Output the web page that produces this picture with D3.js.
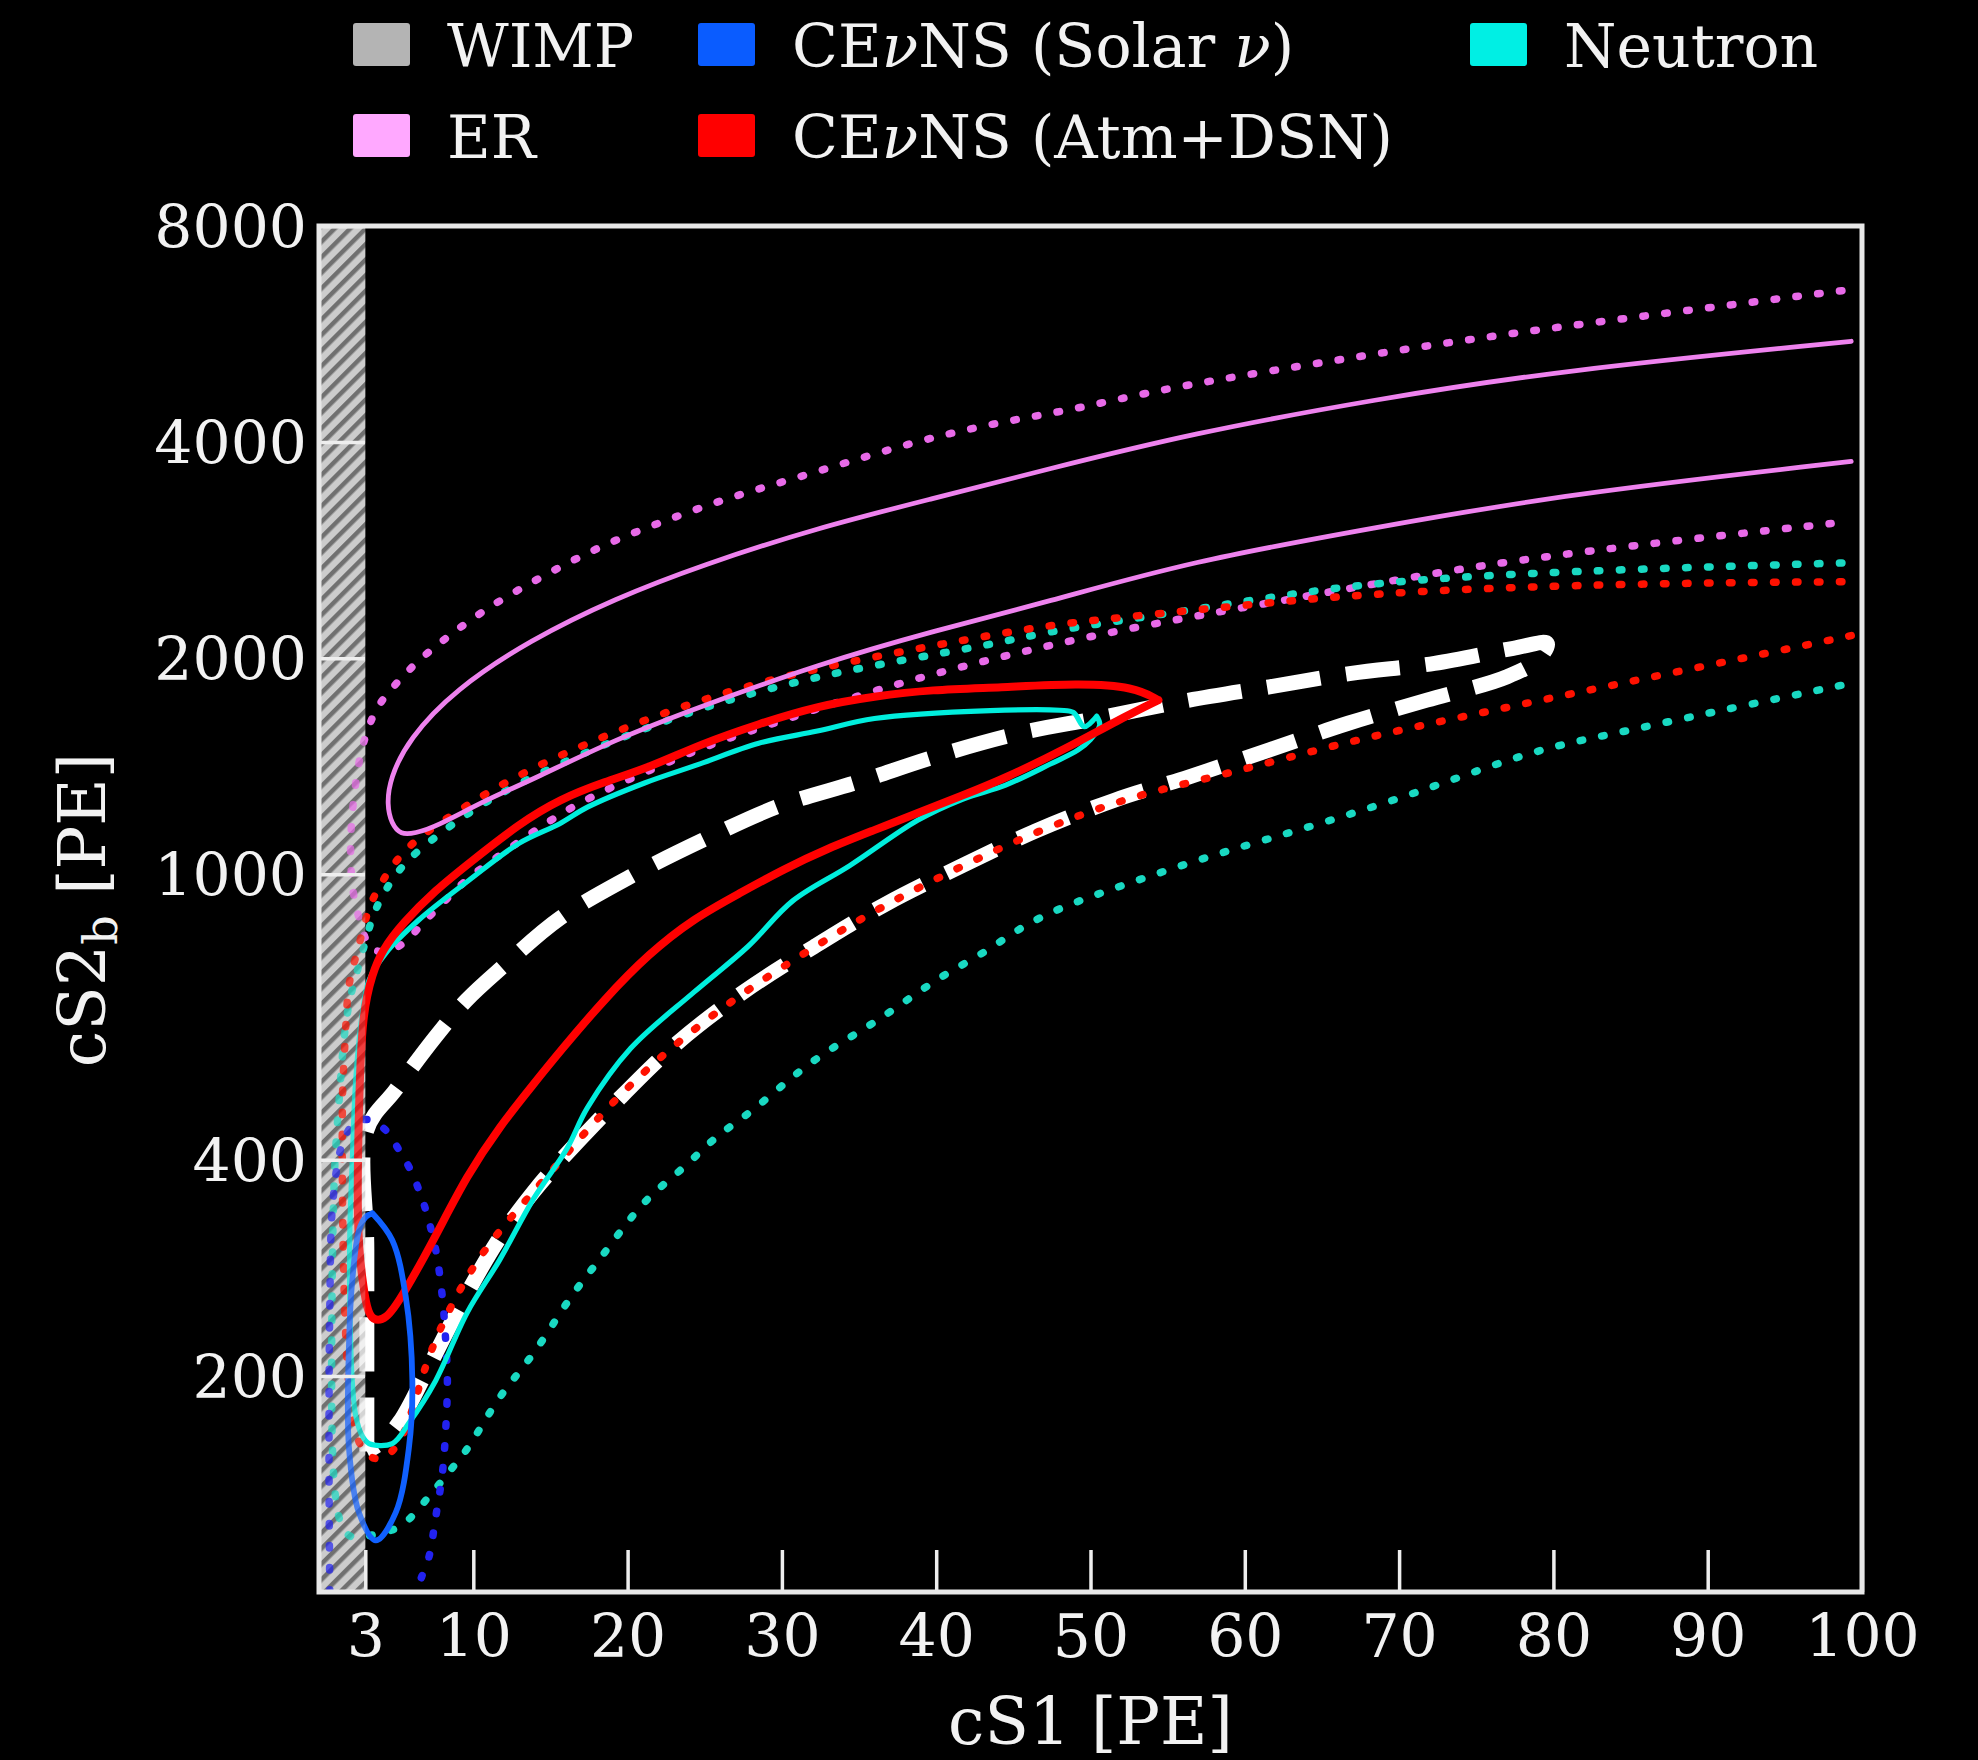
<!DOCTYPE html>
<html>
<head>
<meta charset="utf-8">
<script src="https://cdnjs.cloudflare.com/ajax/libs/d3/7.8.5/d3.min.js"></script>
<style>
  body { margin: 0; background: #000; }
  svg { display: block; font-family: "DejaVu Serif", serif; }
</style>
</head>
<body>
<svg id="svg_main" width="1978" height="1760"></svg>
<script>
// ticks
var x_ticks = [3, 10, 20, 30, 40, 50, 60, 70, 80, 90, 100];
var y_ticks = [200, 400, 1000, 2000, 4000, 8000];
var wimp_cut = 3;

// legend
var legend_names = ["WIMP", "CEνNS (Solar ν)", "Neutron", "ER", "CEνNS (Atm+DSN)"];
var legend_colors = ["#b4b4b4", "#0a5cff", "#00efe4", "#ffa8ff", "#ff0000"];

// contours, [cS1, cS2b]
var er_solid = [[99.3,5527],[80.5,5036],[68.4,4587],[56.5,4110],[47.1,3661],[39.7,3334],[32.3,3038],[24.8,2696],[19.2,2423],[13.7,2122],[8.8,1808],[5.8,1542],[4.6,1360],[4.4,1250],[4.7,1175],[5.3,1135],[6.2,1140],[7.6,1165],[10.8,1269],[13.7,1350],[19.2,1542],[24.8,1715],[32.3,1959],[39.7,2179],[47.1,2391],[56.5,2730],[68.4,3038],[80.5,3380],[99.3,3759]];

var er_dotted = [[98.7,6500],[84.6,5947],[74.5,5566],[64.4,5140],[54.6,4745],[49.0,4440],[43.4,4240],[37.8,3963],[32.3,3636],[26.7,3357],[22.6,3120],[18.5,2884],[14.8,2625],[11.0,2360],[8.6,2164],[6.4,1988],[4.4,1786],[3.6,1688],[3.1,1578],[2.66,1472],[2.22,1277],[2.0,1105],[2.1,972],[2.38,901],[2.81,836],[3.24,784],[4.32,776],[5.62,801],[6.48,845],[7.56,891],[8.64,940],[9.72,992],[11.9,1069],[16.25,1246],[21.1,1386],[25.5,1523],[29.65,1626],[36.0,1808],[44.1,2010],[51.8,2189],[60.8,2371],[68,2529],[75,2690],[85,2870],[98,3080]];

var neutron_solid = [[50.4,1660],[49.6,1605],[48.9,1680],[48.0,1692],[43.5,1690],[36.0,1648],[32.3,1583],[28.5,1522],[24.5,1420],[21.1,1340],[17.4,1240],[15.6,1176],[12.96,1104],[9.72,981],[6.48,864],[4.32,776],[3.24,712],[2.81,640],[2.38,517],[2.16,400],[2.0,320],[2.0,250],[2.16,196],[2.38,176],[2.8,165],[3.24,161],[4.75,161],[5.83,172],[7.56,197],[9.6,245],[11.7,290],[13.9,353],[16.05,414],[17.4,473],[20.2,572],[24.3,685],[27.8,793],[30.7,918],[34.4,1028],[38.8,1189],[41.7,1272],[44.5,1331],[47.4,1424],[49.2,1490],[50.0,1540],[50.6,1615],[50.4,1660]];

var neutron_dotted = [[98.7,2714],[84.6,2660],[72.4,2591],[64.4,2489],[56.3,2328],[47.1,2179],[44.1,2097],[36.0,1959],[28.5,1808],[21.1,1604],[13.65,1368],[9.93,1230],[7.13,1110],[5.8,1050],[4.9,995],[4.1,935],[3.4,870],[2.7,760],[2.2,700],[1.8,640],[1.5,560],[1.3,480],[1.0,400],[0.86,300],[0.8,200],[0.85,150],[1.2,125],[2.0,118],[3.3,120],[5.18,122],[6.27,129],[7.13,136],[7.99,143],[8.86,151],[9.83,160],[11.73,189],[13.9,213],[16.2,257],[17.9,285],[19.7,322],[21.4,357],[23.7,390],[25.7,432],[28.1,467],[31.2,535],[33.6,579],[35.9,619],[38.2,670],[40.5,725],[43.1,776],[45.4,842],[48.0,898],[51.8,961],[58.2,1069],[65.1,1178],[72.3,1324],[78.7,1490],[84.1,1572],[90,1677],[99.3,1845]];

var atm_solid = [[54.4,1748],[52.85,1824],[49.3,1845],[44.1,1820],[39.7,1808],[36,1770],[32.3,1715],[28.5,1620],[24.8,1520],[21.4,1408],[18.5,1345],[15.6,1272],[13.0,1177],[9.72,1036],[7.56,951],[5.4,854],[4.1,784],[3.46,728],[2.81,640],[2.59,490],[2.44,320],[2.81,272],[3.1,248],[3.46,239],[4.32,239],[5.4,258],[7.56,313],[9.57,380],[11.73,446],[13.9,510],[15.6,566],[18.5,670],[21.4,776],[24.3,868],[27.2,939],[30.1,1016],[33.0,1087],[35.9,1150],[38.8,1217],[41.7,1287],[44.5,1361],[48.5,1500],[51.8,1640],[54.4,1748]];

var atm_dotted = [[98.7,2556],[84.6,2540],[72.4,2489],[64.4,2423],[56.3,2328],[48.2,2238],[44.1,2164],[36.0,2012],[28.5,1857],[21.1,1648],[13.65,1405],[9.93,1263],[6.48,1128],[5.4,1069],[4.54,1014],[3.78,951],[3.13,891],[2.48,776],[2.05,728],[1.84,675],[1.75,626],[1.62,545],[1.51,506],[1.5,400],[1.55,300],[1.7,230],[1.94,187],[2.38,163],[3.24,153],[4.32,153],[5.18,161],[5.83,172],[6.98,211],[8.49,250],[10.65,301],[13.9,361],[15.6,398],[19.1,485],[23.1,582],[27.5,685],[32.1,793],[36.7,908],[41.7,1028],[46.6,1150],[51.5,1258],[55,1320],[59.8,1397],[65.4,1505],[71.0,1605],[76.7,1702],[82.3,1806],[92.2,1998],[99.3,2150]];

var solar_solid = [[3.46,337],[4.75,309],[5.62,258],[6.05,197],[5.83,159],[4.97,129],[3.68,118],[2.59,129],[1.94,159],[1.94,220],[2.16,272],[2.59,319],[3.03,333],[3.46,337]];

var solar_dotted = [[0.7,100],[0.65,150],[0.7,250],[0.9,350],[1.5,420],[2.3,450],[3.24,455],[4.32,440],[5.18,413],[5.83,391],[6.48,363],[6.91,341],[7.56,300],[7.99,258],[8.21,224],[8.32,197],[8.21,168],[7.99,146],[7.56,127],[7.13,112],[6.59,104],[6.4,100]];

var wimp_dashed = [[3.1,157],[3.1,300],[3.1,440],[4.97,501],[7.56,594],[9.57,668],[11.9,743],[15.6,868],[20.2,993],[25.2,1124],[29.8,1244],[35.0,1346],[40.0,1460],[45.3,1570],[50.5,1650],[56.2,1745],[61.6,1824],[66.9,1905],[72.3,1967],[77.4,2064],[79.6,2097],[79.0,1990],[77.0,1884],[71.8,1748],[66.7,1623],[61.6,1490],[56.4,1367],[51.6,1269],[46.5,1150],[41.7,1028],[36.7,908],[32.1,793],[27.5,685],[23.1,579],[19.1,478],[15.6,398],[13.9,361],[11.73,312],[9.14,250],[6.98,203],[5.25,173],[3.95,161],[3.1,157]];

var x, y;

function chart(){
  var svg = d3.select("svg#svg_main");
  svg.append("rect").attr("width", 1978).attr("height", 1760).attr("fill", "#000");

  x = d3.scaleLinear().domain([0, 100]).range([319, 1862]);
  y = d3.scaleLog().domain([100, 8000]).range([1592, 226]);

  var defs = svg.append("defs");
  var pat = defs.append("pattern").attr("id", "hatch")
    .attr("patternUnits", "userSpaceOnUse")
    .attr("width", 11).attr("height", 11)
    .attr("patternTransform", "rotate(45)");
  pat.append("rect").attr("width", 11).attr("height", 11).attr("fill", "#cccccc");
  pat.append("rect").attr("width", 4.5).attr("height", 11).attr("fill", "#707070");

  defs.append("clipPath").attr("id", "plot_clip").append("rect")
    .attr("x", x(0)).attr("y", y(8000))
    .attr("width", x(100) - x(0)).attr("height", y(100) - y(8000));

  // WIMP excluded band (below threshold)
  function hatch_rect(g){
    return g.append("rect")
      .attr("x", x(0)).attr("y", y(8000))
      .attr("width", x(wimp_cut) - x(0)).attr("height", y(100) - y(8000))
      .attr("fill", "url(#hatch)");
  }
  hatch_rect(svg);

  var smooth = d3.line()
    .x(function(d){ return x(d[0]); })
    .y(function(d){ return y(d[1]); })
    .curve(d3.curveBasis);
  var sharp = d3.line()
    .x(function(d){ return x(d[0]); })
    .y(function(d){ return y(d[1]); })
    .curve(d3.curveCatmullRom.alpha(0.5));

  var curves = svg.append("g").attr("clip-path", "url(#plot_clip)");

  function draw(line, data, color, width, dash, cap){
    curves.append("path")
      .attr("d", line(data))
      .attr("fill", "none")
      .attr("stroke", color)
      .attr("stroke-width", width)
      .attr("stroke-dasharray", dash)
      .attr("stroke-linecap", cap)
      .attr("stroke-linejoin", "round");
  }

  var dots = "2.5 19.5";
  draw(sharp, wimp_dashed, "#ffffff", 15, "54 26", "butt");
  draw(smooth, er_dotted, "#e86ae8", 7.5, dots, "round");
  draw(smooth, neutron_dotted, "#19d9c2", 7.5, dots, "round");
  draw(smooth, atm_dotted, "#ff1100", 7.5, dots, "round");
  draw(sharp, solar_dotted, "#2222f0", 7.5, dots, "round");
  draw(smooth, er_solid, "#ee82ee", 4.8, null, "round");
  draw(sharp, neutron_solid, "#00eedd", 5.2, null, "round");
  draw(smooth, atm_solid, "#ff0000", 8, null, "round");
  draw(sharp, solar_solid, "#1060ff", 5.8, null, "round");

  hatch_rect(svg).attr("opacity", 0.3);

  // AXES
  var xAxis = d3.axisBottom(x).tickValues(x_ticks).tickSize(-42).tickPadding(22);
  var yAxis = d3.axisLeft(y).tickValues(y_ticks).tickSize(-46).tickPadding(12)
    .tickFormat(d3.format("d"));

  var gx = svg.append("g").attr("transform", "translate(0," + y(100) + ")").call(xAxis);
  var gy = svg.append("g").attr("transform", "translate(" + x(0) + ",0)").call(yAxis);
  [gx, gy].forEach(function(g){
    g.select(".domain").remove();
    g.selectAll(".tick line").attr("stroke", "#eeeeee").attr("stroke-width", 3.5);
    g.selectAll(".tick text").attr("fill", "#f2f2f2")
      .style("font-size", "60px").style("font-family", "DejaVu Serif");
  });
  gy.selectAll(".tick text").attr("dy", "0.36em");

  svg.append("rect")
    .attr("x", x(0)).attr("y", y(8000))
    .attr("width", x(100) - x(0)).attr("height", y(100) - y(8000))
    .attr("fill", "none").attr("stroke", "#e8e8e8").attr("stroke-width", 5);

  // axis titles
  svg.append("text")
    .attr("x", (x(0) + x(100)) / 2).attr("y", 1744)
    .attr("text-anchor", "middle").attr("fill", "#f2f2f2")
    .style("font-size", "65px")
    .text("cS1 [PE]");

  var yt = svg.append("text")
    .attr("transform", "translate(105," + 910 + ") rotate(-90)")
    .attr("text-anchor", "middle").attr("fill", "#f2f2f2")
    .style("font-size", "65px");
  yt.append("tspan").text("cS2");
  yt.append("tspan").attr("dy", 12).style("font-size", "46px").text("b");
  yt.append("tspan").attr("dy", -12).text(" [PE]");

  // LEGEND
  var col_x = [353, 698, 1470];
  var row_y = [23, 114];
  legend_names.forEach(function(name, i){
    var lx = col_x[i % 3], ly = row_y[Math.floor(i / 3)];
    svg.append("rect").attr("x", lx).attr("y", ly)
      .attr("width", 57).attr("height", 43).attr("rx", 3)
      .attr("fill", legend_colors[i]);
    var t = svg.append("text").attr("x", lx + 94).attr("y", ly + 44)
      .attr("fill", "#f2f2f2").style("font-size", "60px");
    name.split(/(ν)/).forEach(function(s){
      if (!s) return;
      t.append("tspan").style("font-style", s == "ν" ? "italic" : "normal").text(s);
    });
  });
}

chart();
</script>
</body>
</html>
